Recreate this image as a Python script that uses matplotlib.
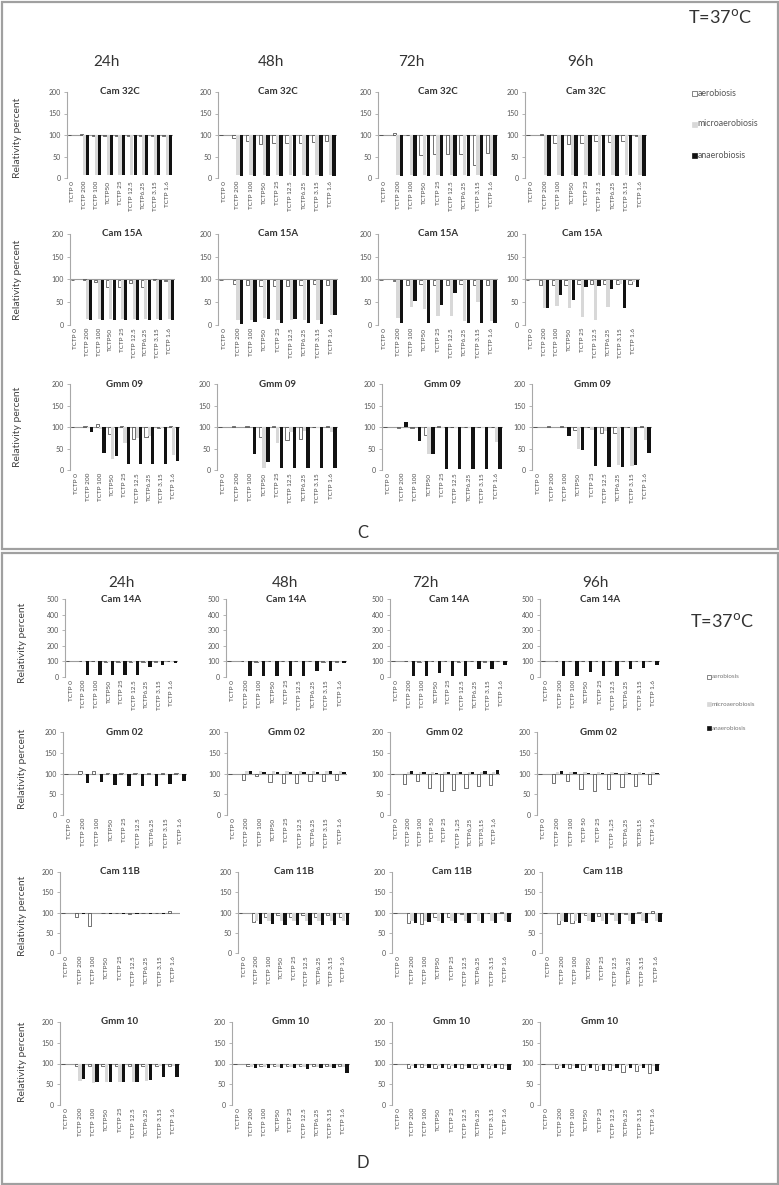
import numpy as np
import matplotlib
matplotlib.use("Agg")
import matplotlib.pyplot as plt
from matplotlib.patches import Rectangle

W, H = 779, 1185
plt.rcParams['font.family'] = ['Lato', 'DejaVu Sans']

# ---------------- data ----------------
LABELS = ["TCTP 0", "TCTP 200", "TCTP 100", "TCTP50", "TCTP 25",
          "TCTP 12.5", "TCTP6.25", "TCTP 3.15", "TCTP 1.6"]
LABELS_COMMA = ["TCTP 0", "TCTP 200", "TCTP 100", "TCTP 50", "TCTP 25",
                "TCTP 1,25", "TCTP6,25", "TCTP3,15", "TCTP 1,6"]
SERIES = ["aerobiosis", "microaerobiosis", "anaerobiosis"]
HOURS = ["24h", "48h", "72h", "96h"]
C_STRAINS = ["Cam 32C", "Cam 15A", "Gmm 09"]
D_STRAINS = ["Cam 14A", "Gmm 02", "Cam 11B", "Gmm 10"]

# each: [aerobiosis, microaerobiosis, anaerobiosis]
CAM32C_24H = [[100, 102, 97, 98, 98, 98, 98, 98, 98],
              [100, 8, 8, 8, 8, 8, 8, 8, 8],
              [100, 6, 6, 6, 6, 6, 6, 6, 6]]
CAM32C_48H = [[100, 92, 87, 78, 82, 82, 82, 84, 87],
              [100, 8, 8, 8, 8, 8, 8, 8, 8],
              [100, 5, 5, 5, 5, 5, 5, 5, 5]]
CAM32C_72H = [[100, 104, 99, 54, 55, 55, 55, 30, 59],
              [100, 6, 6, 6, 6, 6, 6, 6, 6],
              [100, 5, 5, 5, 5, 5, 5, 5, 5]]
CAM32C_96H = [[100, 103, 82, 78, 82, 85, 84, 85, 97],
              [100, 6, 6, 6, 6, 6, 6, 6, 6],
              [100, 5, 5, 5, 5, 5, 5, 5, 5]]

CAM15A_24H = [[100, 102, 95, 84, 84, 92, 84, 102, 97],
              [100, 14, 14, 14, 14, 14, 14, 14, 14],
              [100, 10, 10, 10, 10, 10, 10, 10, 10]]
CAM15A_48H = [[100, 90, 87, 85, 85, 85, 87, 90, 88],
              [100, 10, 10, 15, 12, 10, 12, 10, 22],
              [100, 2, 7, 13, 5, 13, 5, 3, 21]]
CAM15A_72H = [[100, 97, 87, 90, 87, 87, 90, 87, 87],
              [100, 15, 40, 35, 20, 20, 8, 50, 8],
              [100, 5, 53, 5, 43, 70, 5, 5, 5]]
CAM15A_96H = [[100, 87, 87, 87, 90, 90, 90, 90, 90],
              [100, 37, 42, 37, 17, 11, 40, 90, 95],
              [100, 38, 65, 55, 83, 85, 80, 37, 83]]

GMM09_24H = [[100, 103, 107, 84, 102, 71, 77, 98, 103],
             [100, 97, 95, 25, 62, 75, 80, 97, 35],
             [100, 89, 40, 32, 15, 13, 13, 13, 22]]
GMM09_48H = [[100, 102, 103, 77, 103, 69, 73, 99, 102],
             [100, 100, 100, 5, 62, 88, 90, 97, 88],
             [100, 100, 38, 18, 5, 5, 5, 5, 5]]
GMM09_72H = [[100, 98, 98, 82, 102, 99, 100, 99, 99],
             [100, 100, 100, 38, 97, 97, 97, 97, 64],
             [100, 112, 68, 38, 3, 3, 3, 3, 3]]
GMM09_96H = [[100, 102, 102, 92, 101, 86, 86, 101, 103],
             [100, 100, 100, 48, 92, 90, 12, 10, 70],
             [100, 100, 78, 46, 10, 8, 8, 11, 40]]

CAM14A_24H = [[100, 103, 103, 98, 98, 98, 98, 98, 103],
              [100, 97, 97, 97, 97, 97, 97, 97, 97],
              [100, 15, 15, 15, 15, 15, 64, 79, 90]]
CAM14A_48H = [[100, 103, 98, 103, 103, 103, 103, 98, 98],
              [100, 97, 97, 97, 97, 97, 97, 97, 97],
              [100, 8, 8, 8, 8, 8, 40, 40, 90]]
CAM14A_72H = [[100, 102, 98, 102, 102, 98, 103, 98, 103],
              [100, 97, 97, 97, 97, 97, 97, 97, 97],
              [100, 7, 7, 28, 7, 7, 50, 50, 78]]
CAM14A_96H = [[100, 102, 102, 102, 102, 102, 102, 102, 102],
              [100, 97, 97, 97, 97, 97, 97, 97, 97],
              [100, 9, 9, 32, 9, 9, 50, 55, 77]]

GMM02_24H = [[100, 106, 107, 102, 101, 101, 101, 102, 102],
             [100, 97, 97, 97, 97, 97, 97, 97, 97],
             [100, 77, 79, 73, 70, 70, 70, 75, 83]]
GMM02_48H = [[100, 85, 93, 80, 78, 78, 82, 82, 84],
             [100, 107, 107, 106, 106, 106, 106, 106, 106],
             [100, 105, 104, 104, 104, 104, 104, 105, 104]]
GMM02_72H = [[100, 74, 81, 65, 59, 61, 66, 69, 72],
             [100, 104, 104, 104, 104, 104, 104, 104, 104],
             [100, 106, 104, 102, 103, 104, 103, 105, 108]]
GMM02_96H = [[100, 78, 82, 63, 59, 63, 67, 71, 75],
             [100, 103, 103, 103, 103, 103, 103, 103, 103],
             [100, 106, 104, 101, 102, 102, 102, 102, 102]]

CAM11B_24H = [[100, 89, 66, 98, 98, 97, 98, 98, 103],
              [100, 98, 98, 98, 98, 98, 98, 98, 98],
              [100, 96, 99, 97, 96, 96, 96, 97, 99]]
CAM11B_48H = [[100, 76, 88, 94, 88, 94, 88, 94, 88],
              [100, 80, 80, 80, 80, 80, 80, 80, 80],
              [100, 72, 72, 70, 69, 69, 69, 69, 69]]
CAM11B_72H = [[100, 74, 72, 90, 90, 96, 98, 99, 102],
              [100, 78, 78, 78, 78, 78, 78, 78, 78],
              [100, 74, 76, 74, 74, 74, 74, 74, 76]]
CAM11B_96H = [[100, 71, 75, 93, 91, 96, 96, 102, 104],
              [100, 78, 78, 78, 78, 78, 78, 78, 78],
              [100, 76, 75, 76, 71, 72, 71, 75, 76]]

GMM10_24H = [[100, 95, 93, 95, 95, 95, 95, 95, 95],
             [100, 58, 52, 55, 55, 55, 58, 93, 95],
             [100, 62, 55, 55, 55, 55, 60, 68, 68]]
GMM10_48H = [[100, 95, 95, 95, 95, 95, 95, 95, 95],
             [100, 92, 92, 92, 92, 92, 92, 92, 92],
             [100, 88, 90, 88, 88, 87, 88, 88, 78]]
GMM10_72H = [[100, 90, 92, 90, 90, 90, 90, 90, 88],
             [100, 94, 94, 94, 94, 94, 94, 94, 94],
             [100, 88, 88, 88, 90, 88, 88, 88, 85]]
GMM10_96H = [[100, 88, 90, 85, 85, 85, 80, 83, 78],
             [100, 94, 94, 94, 94, 94, 94, 94, 94],
             [100, 88, 88, 88, 85, 88, 88, 88, 82]]

C_DATA = [[CAM32C_24H, CAM32C_48H, CAM32C_72H, CAM32C_96H],
          [CAM15A_24H, CAM15A_48H, CAM15A_72H, CAM15A_96H],
          [GMM09_24H, GMM09_48H, GMM09_72H, GMM09_96H]]
D_DATA = [[CAM14A_24H, CAM14A_48H, CAM14A_72H, CAM14A_96H],
          [GMM02_24H, GMM02_48H, GMM02_72H, GMM02_96H],
          [CAM11B_24H, CAM11B_48H, CAM11B_72H, CAM11B_96H],
          [GMM10_24H, GMM10_48H, GMM10_72H, GMM10_96H]]

# ---------------- layout ----------------
fig = plt.figure(figsize=(W / 100, H / 100), dpi=100)
fig.patch.set_facecolor('white')


def px_axes(l, t, r, b):
    return fig.add_axes([l / W, 1 - b / H, (r - l) / W, (b - t) / H])


def ftext(x, y, s, **kw):
    fig.text(x / W, 1 - y / H, s, **kw)


COLORS = ['white', '#d8d8d8', '#121212']
EDGES = ['#3a3a3a', 'none', 'none']


def draw(ax, data, title, ymax, ystep, labels):
    x = np.arange(len(labels))
    w, off = 0.26, 0.28
    for k, vals in enumerate(data):
        v = np.asarray(vals, dtype=float)
        ax.bar(x + (k - 1) * off, v - 100, bottom=100, width=w,
               color=COLORS[k], edgecolor=EDGES[k],
               linewidth=0.5 if k == 0 else 0, zorder=2)
    ax.axhline(100, color='#9c9c9c', lw=0.8, zorder=1)
    ax.set_xlim(-0.5, len(labels) - 0.5)
    ax.set_ylim(0, ymax)
    ax.set_yticks(np.arange(0, ymax + 1, ystep))
    for s in ['top', 'right', 'bottom']:
        ax.spines[s].set_visible(False)
    ax.spines['left'].set_color('#a8a8a8')
    ax.spines['left'].set_linewidth(0.8)
    ax.tick_params(axis='y', direction='out', length=2.5, width=0.6,
                   color='#a8a8a8', labelsize=5, labelcolor='#555555', pad=2)
    ax.set_xticks(x)
    ax.set_xticklabels(labels, rotation=90, fontsize=4.6, color='#4a4a4a',
                       ha='center', va='top')
    ax.tick_params(axis='x', length=0, pad=2)
    ax.set_facecolor('none')
    ax.text(0.5, 1.0, title, transform=ax.transAxes, ha='center', va='center',
            fontsize=7, fontweight='bold', color='#333333')


C_TOPS = [92, 234, 384]
C_BOTS = [178, 325, 470]
C_LR = [[(67, 173), (218, 337), (378, 498), (525, 647)],
        [(70, 175), (218, 338), (378, 498), (525, 640)],
        [(70, 180), (217, 338), (382, 503), (532, 652)]]
D_TOPS = [599, 732, 872, 1022]
D_BOTS = [677, 815, 953, 1105]
D_LR = [[(65, 178), (226, 347), (390, 508), (540, 660)],
        [(63, 187), (227, 347), (390, 500), (537, 660)],
        [(60, 180), (238, 350), (392, 512), (542, 663)],
        [(60, 180), (232, 350), (392, 512), (540, 660)]]

for r, strain in enumerate(C_STRAINS):
    for c in range(4):
        l, rr = C_LR[r][c]
        ax = px_axes(l, C_TOPS[r], rr, C_BOTS[r])
        draw(ax, C_DATA[r][c], strain, 200, 50, LABELS)

for r, strain in enumerate(D_STRAINS):
    for c in range(4):
        l, rr = D_LR[r][c]
        ax = px_axes(l, D_TOPS[r], rr, D_BOTS[r])
        labels = LABELS_COMMA if (r == 1 and c >= 2) else LABELS
        if r == 0:
            draw(ax, D_DATA[r][c], strain, 500, 100, labels)
        else:
            draw(ax, D_DATA[r][c], strain, 200, 50, labels)

# headers
for x, h in zip([106, 271, 411, 580], HOURS):
    ftext(x, 62, h, ha='center', va='center', fontsize=11, color='#333333')
for x, h in zip([121, 285, 425, 595], HOURS):
    ftext(x, 583, h, ha='center', va='center', fontsize=11, color='#333333')

ftext(720, 17, "T=37$^{\\rm o}$C", ha='center', va='center', fontsize=13, color='#333333')
ftext(722, 621, "T=37$^{\\rm o}$C", ha='center', va='center', fontsize=13, color='#333333')
ftext(363, 533, "C", ha='center', va='center', fontsize=12, color='#333333')
ftext(363, 1163, "D", ha='center', va='center', fontsize=12, color='#333333')

for y in [138, 280, 427]:
    ftext(18, y, "Relativity percent", rotation=90, ha='center', va='center',
          fontsize=7.5, color='#444444')
for y in [643, 769, 916, 1062]:
    ftext(23, y, "Relativity percent", rotation=90, ha='center', va='center',
          fontsize=7.5, color='#444444')


# legends
def legend(x, ys, size, fs, tcolor):
    for k, (y, name) in enumerate(zip(ys, SERIES)):
        fig.add_artist(Rectangle(((x) / W, 1 - (y + size / 2) / H), size / W, size / H,
                                 transform=fig.transFigure,
                                 facecolor=COLORS[k],
                                 edgecolor='#555555' if k == 0 else COLORS[k],
                                 linewidth=0.5))
        ftext(x + size + 0.5, y, name, ha='left', va='center', fontsize=fs, color=tcolor)


legend(692, [93, 124, 155], 5, 6.3, '#555555')
legend(707, [677, 704, 728], 4, 4.5, '#777777')

# panel borders
for (x0, y0, x1, y1) in [(1.5, 1.5, 777.5, 549), (1.5, 553, 777.5, 1183.5)]:
    fig.add_artist(Rectangle((x0 / W, 1 - y1 / H), (x1 - x0) / W, (y1 - y0) / H,
                             transform=fig.transFigure, fill=False,
                             edgecolor='#a0a0a0', linewidth=1.6))

fig.savefig("out.png", dpi=100)
